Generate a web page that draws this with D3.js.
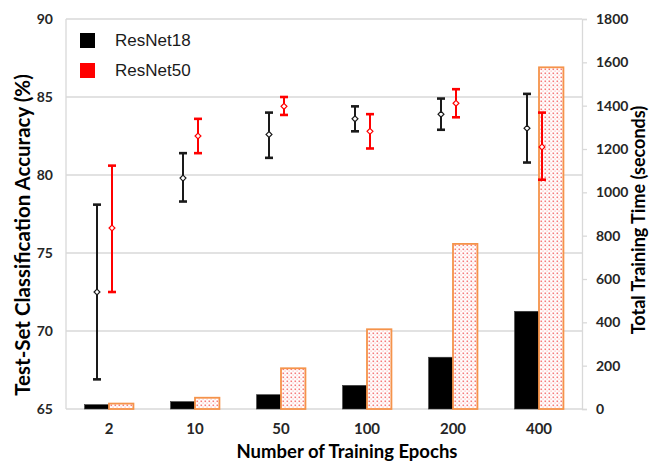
<!DOCTYPE html>
<html>
<head>
<meta charset="utf-8">
<script src="https://cdn.jsdelivr.net/npm/d3@7"></script>
<style>
  body { margin: 0; background: #fff; }
  svg { display: block; }
</style>
</head>
<body>
<svg id="stage" width="649" height="466"></svg>
<script>
var svg = d3.select("#stage");

// data
var epochs = ["2", "10", "50", "100", "200", "400"];
var seriesNames = ["ResNet18", "ResNet50"];

var time18 = [20, 34, 66, 109, 239, 451];
var time50 = [25, 52, 188, 368, 762, 1577];

var acc18 = [72.5, 79.8, 82.6, 83.6, 83.9, 83.0];
var acc18Hi = [78.1, 81.4, 84.0, 84.4, 84.9, 85.2];
var acc18Lo = [66.9, 78.3, 81.1, 82.8, 82.9, 80.8];

var acc50 = [76.6, 82.5, 84.4, 82.8, 84.6, 81.8];
var acc50Hi = [80.6, 83.6, 85.0, 83.9, 85.5, 84.0];
var acc50Lo = [72.5, 81.4, 83.85, 81.7, 83.7, 79.7];

var accTicks = [65, 70, 75, 80, 85, 90];
var timeTicks = [0, 200, 400, 600, 800, 1000, 1200, 1400, 1600, 1800];

////////////////////////////// LAYOUT
var plotL = 66, plotR = 582, plotT = 19, plotB = 409;
var font = "Lato, 'Open Sans', sans-serif";

var x = d3.scaleBand().domain(epochs).range([plotL, plotR]).padding(0);
var xs = d3.scaleBand().domain(seriesNames).range([0, x.bandwidth()]).paddingOuter(0.76);
var yAcc = d3.scaleLinear().domain([65, 90]).range([plotB, plotT]);
var yTime = d3.scaleLinear().domain([0, 1800]).range([plotB, plotT]);

// pattern for resnet50 bars
var defs = svg.append("defs");
var pat = defs.append("pattern")
  .attr("id", "dots")
  .attr("patternUnits", "userSpaceOnUse")
  .attr("width", 4).attr("height", 4);
pat.append("rect").attr("width", 4).attr("height", 4).attr("fill", "#fff");
pat.append("rect").attr("x", 0.5).attr("y", 0.5).attr("width", 1.6).attr("height", 1.6).attr("fill", "#f25a5a").attr("opacity", 0.8);
pat.append("rect").attr("x", 2.5).attr("y", 2.5).attr("width", 1.2).attr("height", 1.2).attr("fill", "#f7a0a0").attr("opacity", 0.75);

// grid lines
svg.append("g").selectAll("line")
  .data(accTicks.slice(1))
  .enter().append("line")
    .attr("x1", plotL).attr("x2", plotR)
    .attr("y1", function(d){ return yAcc(d); })
    .attr("y2", function(d){ return yAcc(d); })
    .attr("stroke", "#d9d9d9").attr("stroke-width", 1.3);

// frame
svg.append("line").attr("x1", plotL).attr("x2", plotL).attr("y1", plotT).attr("y2", plotB)
  .attr("stroke", "#d9d9d9").attr("stroke-width", 1.3);
svg.append("line").attr("x1", plotL).attr("x2", plotR + 1).attr("y1", plotB).attr("y2", plotB)
  .attr("stroke", "#d9d9d9").attr("stroke-width", 1.3);

// left axis
var accAxis = d3.axisLeft(yAcc).tickValues(accTicks).tickSize(0).tickPadding(13);
var gl = svg.append("g").attr("transform", "translate(" + plotL + ",0)").call(accAxis);
gl.select(".domain").remove();
gl.selectAll("text").attr("font-family", font).attr("font-weight", "bold")
  .attr("font-size", 14).attr("fill", "#262626");

// right axis
var timeAxis = d3.axisRight(yTime).tickValues(timeTicks).tickFormat(d3.format("d"))
  .tickSize(5).tickPadding(9);
var gr = svg.append("g").attr("transform", "translate(" + plotR + ",0)").call(timeAxis);
gr.select(".domain").attr("stroke", "#d9d9d9").attr("stroke-width", 1.3);
gr.selectAll(".tick line").attr("stroke", "#d9d9d9").attr("stroke-width", 1.3);
gr.selectAll("text").attr("font-family", font).attr("font-weight", "bold")
  .attr("font-size", 14).attr("fill", "#262626");

// x axis labels
var xAxis = d3.axisBottom(x).tickSize(0).tickPadding(14);
var gx = svg.append("g").attr("transform", "translate(0," + plotB + ")").call(xAxis);
gx.select(".domain").remove();
gx.selectAll("text").attr("font-family", font).attr("font-weight", "bold")
  .attr("font-size", 15).attr("fill", "#262626");

////////////////////////////// BARS
var barData = epochs.map(function(e, i){
  return [{epoch: e, name: "ResNet18", value: time18[i]},
          {epoch: e, name: "ResNet50", value: time50[i]}];
});

svg.append("g").selectAll("g")
  .data(barData)
  .enter().append("g")
    .attr("transform", function(d){ return "translate(" + x(d[0].epoch) + ",0)"; })
  .selectAll("rect")
  .data(function(d){ return d; })
  .enter().append("rect")
    .attr("x", function(d){ return xs(d.name); })
    .attr("width", xs.bandwidth())
    .attr("y", function(d){ return yTime(d.value); })
    .attr("height", function(d){ return plotB - yTime(d.value); })
    .attr("fill", function(d){ return d.name === "ResNet18" ? "#000" : "url(#dots)"; })
    .attr("stroke", function(d){ return d.name === "ResNet18" ? "#3a3a3a" : "#f5934a"; })
    .attr("stroke-width", function(d){ return d.name === "ResNet18" ? 0.6 : 1.8; });

////////////////////////////// ERROR BARS
var errSeries = [
  {name: "ResNet18", color: "#1a1a1a", offset: -12, mean: acc18, hi: acc18Hi, lo: acc18Lo},
  {name: "ResNet50", color: "#ff0000", offset: 3, mean: acc50, hi: acc50Hi, lo: acc50Lo}
];

errSeries.forEach(function(s){
  var g = svg.append("g");
  var pts = epochs.map(function(e, i){
    return {cx: x(e) + x.bandwidth() / 2 + s.offset, m: s.mean[i], hi: s.hi[i], lo: s.lo[i]};
  });
  var pg = g.selectAll("g").data(pts).enter().append("g");
  pg.append("line")
    .attr("x1", function(d){ return d.cx; }).attr("x2", function(d){ return d.cx; })
    .attr("y1", function(d){ return yAcc(d.hi); }).attr("y2", function(d){ return yAcc(d.lo); })
    .attr("stroke", s.color).attr("stroke-width", 2);
  [ "hi", "lo" ].forEach(function(k){
    pg.append("line")
      .attr("x1", function(d){ return d.cx - 4; }).attr("x2", function(d){ return d.cx + 4; })
      .attr("y1", function(d){ return yAcc(d[k]); }).attr("y2", function(d){ return yAcc(d[k]); })
      .attr("stroke", s.color).attr("stroke-width", 2.6);
  });
  pg.append("path")
    .attr("transform", function(d){ return "translate(" + d.cx + "," + yAcc(d.m) + ")"; })
    .attr("d", d3.symbol().type(d3.symbolDiamond2).size(22))
    .attr("fill", "#fff").attr("stroke", s.color).attr("stroke-width", 1.2);
});

////////////////////////////// LEGEND
var legendColors = ["#000", "#ff0000"];
var lg = svg.append("g").selectAll("g")
  .data(seriesNames)
  .enter().append("g")
    .attr("transform", function(d, i){ return "translate(80," + (33 + i * 30) + ")"; });
lg.append("rect").attr("width", 15).attr("height", 15)
  .attr("fill", function(d, i){ return legendColors[i]; });
lg.append("text").attr("x", 35).attr("y", 13)
  .attr("font-family", "'Liberation Sans', Arial, sans-serif").attr("font-size", 17)
  .attr("fill", "#1a1a1a")
  .text(function(d){ return d; });

////////////////////////////// TITLES
svg.append("text")
  .attr("transform", "translate(30,235) rotate(-90)")
  .attr("text-anchor", "middle")
  .attr("font-family", font).attr("font-weight", "bold").attr("font-size", 20.5)
  .attr("fill", "#000")
  .text("Test-Set Classification Accuracy (%)");

svg.append("text")
  .attr("transform", "translate(645,220) rotate(-90)")
  .attr("text-anchor", "middle")
  .attr("font-family", font).attr("font-weight", "bold").attr("font-size", 18)
  .attr("fill", "#000")
  .text("Total Training Time (seconds)");

svg.append("text")
  .attr("x", 347).attr("y", 458)
  .attr("text-anchor", "middle")
  .attr("font-family", font).attr("font-weight", "bold").attr("font-size", 18.5)
  .attr("fill", "#000")
  .text("Number of Training Epochs");
</script>
</body>
</html>
